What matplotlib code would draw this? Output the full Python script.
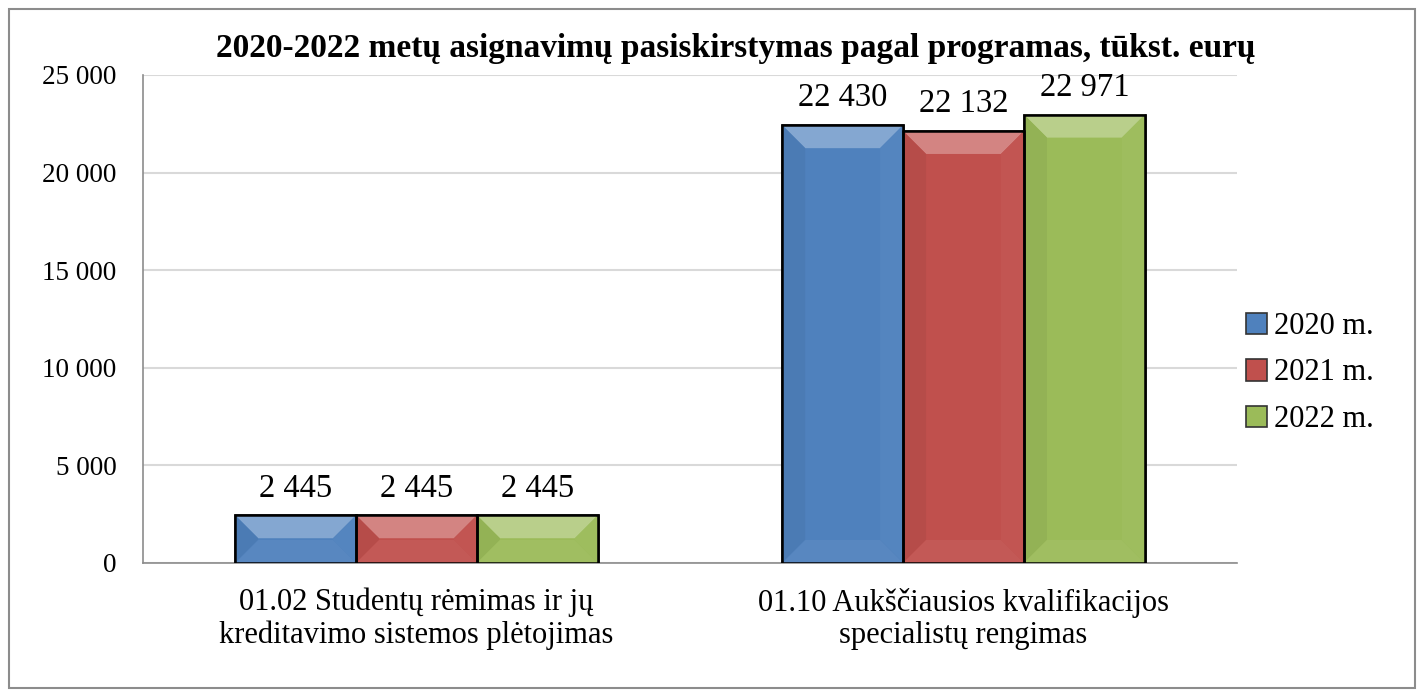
import matplotlib.pyplot as plt
from matplotlib.patches import Polygon, Patch, Rectangle
import matplotlib.colors as mcolors
import numpy as np

categories = ['01.02 Studentų rėmimas ir jų\nkreditavimo sistemos plėtojimas',
              '01.10 Aukščiausios kvalifikacijos\nspecialistų rengimas']
series_names = ['2020 m.', '2021 m.', '2022 m.']
values_2020 = [2445, 22430]
values_2021 = [2445, 22132]
values_2022 = [2445, 22971]
colors = ['#4F81BD', '#C0504D', '#9BBB59']
title = '2020-2022 metų asignavimų pasiskirstymas pagal programas, tūkst. eurų'

plt.rcParams['font.family'] = ['Liberation Serif', 'DejaVu Serif']

def fmt(v):
    return f'{int(v):,}'.replace(',', ' ')

def mix(c, other, t):
    a = np.array(mcolors.to_rgb(c))
    b = np.array(mcolors.to_rgb(other))
    return tuple(a * (1 - t) + b * t)

fig = plt.figure(figsize=(14.24, 6.97), dpi=100)
ax = fig.add_axes([0.1004, 0.1923, 0.7683, 0.7001])

# outer frame
fig.patches.append(Rectangle((9 / 1424, 9 / 697), 1406 / 1424, 679 / 697,
                             transform=fig.transFigure, fill=False,
                             edgecolor='#8c8c8c', linewidth=1.5))

ax.set_xlim(-0.5, 1.5)
ax.set_ylim(0, 25000)
ax.set_yticks(np.arange(0, 25001, 5000))
ax.set_yticklabels([fmt(v) for v in np.arange(0, 25001, 5000)], fontsize=19.5)
ax.yaxis.grid(True, color='#d9d9d9', linewidth=1.5)
ax.set_axisbelow(True)
for s in ['top', 'right']:
    ax.spines[s].set_visible(False)
ax.spines['left'].set_color('#8c8c8c')
ax.spines['bottom'].set_color('#8c8c8c')
ax.spines['left'].set_linewidth(1.2)
ax.spines['bottom'].set_linewidth(1.2)
ax.tick_params(axis='y', length=0, pad=19)
ax.tick_params(axis='x', length=0, pad=18)
ax.set_xticks(range(len(categories)))
ax.set_xticklabels(categories, fontsize=22, linespacing=1.15)

x = np.arange(len(categories))
w = 0.221
all_vals = [values_2020, values_2021, values_2022]
bars = []
for i, vals in enumerate(all_vals):
    b = ax.bar(x + (i - 1) * w, vals, w, color=colors[i], edgecolor='black',
               linewidth=1.8, zorder=3)
    bars.append(b)
    for rect, v in zip(b, vals):
        ax.text(rect.get_x() + rect.get_width() / 2, v + 600, fmt(v),
                ha='center', va='bottom', fontsize=23.5, zorder=5)

# bevel effect
inv = ax.transData.inverted()
for i, b in enumerate(bars):
    c = colors[i]
    for rect in b:
        (x0, y0), (x1, y1) = ax.transData.transform(
            [(rect.get_x(), 0), (rect.get_x() + rect.get_width(), rect.get_height())])
        bv = min(23, (y1 - y0) / 2, (x1 - x0) / 2)
        shapes = [
            ([(x0, y1), (x1, y1), (x1 - bv, y1 - bv), (x0 + bv, y1 - bv)], mix(c, 'white', 0.3)),
            ([(x0, y0), (x0, y1), (x0 + bv, y1 - bv), (x0 + bv, y0 + bv)], mix(c, 'black', 0.05)),
            ([(x1, y0), (x1, y1), (x1 - bv, y1 - bv), (x1 - bv, y0 + bv)], mix(c, 'white', 0.03)),
            ([(x0, y0), (x1, y0), (x1 - bv, y0 + bv), (x0 + bv, y0 + bv)], mix(c, 'white', 0.05)),
        ]
        for pts, col in shapes:
            ax.add_patch(Polygon(inv.transform(pts), closed=True, facecolor=col,
                                 edgecolor='none', zorder=3.5))
        ax.add_patch(Rectangle((rect.get_x(), 0), rect.get_width(), rect.get_height(),
                               fill=False, edgecolor='black', linewidth=1.8, zorder=4))

fig.text(736 / 1424, 1 - 48 / 697, title, ha='center', va='center',
         fontsize=24, fontweight='bold')

handles = [Patch(facecolor=colors[i], edgecolor='#333333', linewidth=1.2)
           for i in range(3)]
fig.legend(handles, series_names, loc='center left',
           bbox_to_anchor=(1246 / 1424, 1 - 373 / 697), frameon=False,
           fontsize=22, handlelength=0.7, handleheight=0.7, handletextpad=0.2,
           labelspacing=0.57, borderaxespad=0, borderpad=0)

fig.savefig('out.png', dpi=100)
